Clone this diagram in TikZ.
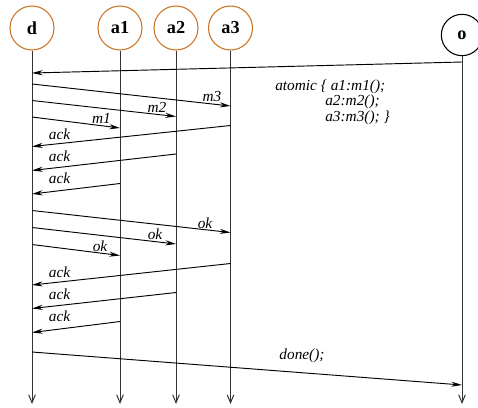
\documentclass[tikz,border=0pt]{standalone}
\usepackage{fontspec}
\setmainfont{Liberation Serif}
\usetikzlibrary{arrows.meta}
\definecolor{headorange}{RGB}{205,115,35}
\tikzset{
  head/.style={circle, draw=headorange, line width=0.8pt, minimum size=33pt, inner sep=0pt,
    font=\fontsize{13.7}{15}\selectfont\bfseries},
  lifeline/.style={draw=black!80, line width=0.75pt, -{Straight Barb[length=6pt,width=5pt]}},
  msg/.style={line width=0.7pt, -{Stealth[length=8pt,width=3.8pt]}},
  lbl/.style={inner sep=0pt, font=\fontsize{11.5}{12}\selectfont\itshape}
}
\begin{document}
\begin{tikzpicture}[x=0.75pt, y=-0.75pt]
    \useasboundingbox (0,0) rectangle (478,407);
    % Heads of the five processes.
    \node[head] (d)  at (32,28)  {d};
    \node[head] (a1) at (120,28) {a1};
    \node[head] (a2) at (176,28) {a2};
    \node[head] (a3) at (230.5,28) {a3};
    \node[head, draw=black, minimum size=31pt] (o) at (462,35) {o};
    % Lifelines down to the bottom.
    \foreach \p in {d,a1,a2,a3,o}
      \draw[lifeline] (\p.south) -- (\p |- 0,404);
    % Request from o, and the atomic block.
    \draw[msg] (o |- 0,62) -- (d |- 0,73);
    \node[lbl, anchor=base west] (at1) at (275,90) {atomic \{ a1:m1();};
    \node[lbl, anchor=base west] (at2) at (325,105.5) {a2:m2();};
    \node[lbl, anchor=base west] (at3) at (325,121) {a3:m3(); \}};
    % First round: calls and acknowledgements.
    \draw[msg] (d |- 0,84)    -- (a3 |- 0,106);
    \node[lbl] (m3) at (212,96.5) {m3};
    \draw[msg] (d |- 0,100.5) -- (a2 |- 0,116.5);
    \node[lbl] (m2) at (157,107) {m2};
    \draw[msg] (d |- 0,117)   -- (a1 |- 0,128);
    \node[lbl] (m1) at (101.5,118) {m1};
    \draw[msg] (a3 |- 0,125.5) -- (d |- 0,146.5);
    \node[lbl] (ack1) at (59.5,134) {ack};
    \draw[msg] (a2 |- 0,154)   -- (d |- 0,170.5);
    \node[lbl] (ack2) at (59.5,156) {ack};
    \draw[msg] (a1 |- 0,183.5) -- (d |- 0,194);
    \node[lbl] (ack3) at (59.5,178) {ack};
    % Second round: ok and acknowledgements.
    \draw[msg] (d |- 0,210.5) -- (a3 |- 0,232.5);
    \node[lbl] (ok3) at (205,223) {ok};
    \draw[msg] (d |- 0,227.5) -- (a2 |- 0,244);
    \node[lbl] (ok2) at (155,234) {ok};
    \draw[msg] (d |- 0,244.5) -- (a1 |- 0,255.5);
    \node[lbl] (ok1) at (100,246) {ok};
    \draw[msg] (a3 |- 0,263.5) -- (d |- 0,285);
    \node[lbl] (ack4) at (59.5,272) {ack};
    \draw[msg] (a2 |- 0,292.5) -- (d |- 0,308.5);
    \node[lbl] (ack5) at (59.5,294.5) {ack};
    \draw[msg] (a1 |- 0,321.5) -- (d |- 0,332.5);
    \node[lbl] (ack6) at (59.5,316) {ack};
    % Reply to o.
    \draw[msg] (d |- 0,352) -- (o |- 0,385);
    \node[lbl] (done) at (302,356) {done();};
  \end{tikzpicture}
\end{document}
